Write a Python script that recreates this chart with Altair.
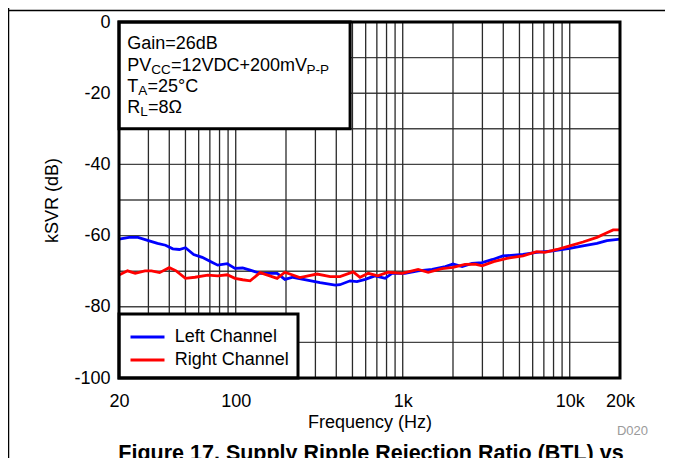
import altair as alt
import pandas as pd

FONT = "Liberation Sans"

# ---------------- data ----------------
left_freq = [20, 23, 26, 30, 34, 38, 42, 46, 50, 56, 63, 72, 78, 89, 99, 110, 122, 140, 177, 197,
             220, 268, 320, 394, 421, 484, 532, 596, 682, 784, 863, 1030, 1236, 1500, 1800, 2000,
             2270, 2600, 2990, 3460, 3980, 5250, 6340, 7940, 10000, 12000, 14560, 16700, 20000]
left_ksvr = [-61.0, -60.5, -60.5, -61.4, -62.2, -62.7, -63.7, -63.9, -63.4, -65.3, -66.1, -67.5,
             -68.3, -67.9, -69.2, -69.1, -69.7, -70.6, -70.6, -72.3, -71.7, -72.5, -73.2, -73.9,
             -73.8, -72.7, -72.9, -72.3, -71.3, -72.0, -70.6, -70.6, -69.9, -69.5, -68.7, -68.0,
             -68.7, -67.8, -67.6, -66.7, -65.7, -65.3, -64.7, -64.3, -63.6, -62.9, -62.2, -61.4, -61.0]

right_freq = [20, 22.5, 25, 28.6, 31.3, 35, 40, 44, 50, 57, 68, 78, 89, 99, 110, 122, 140, 177,
              197, 242, 307, 368, 421, 505, 555, 622, 709, 818, 992, 1236, 1420, 1720, 2000, 2360,
              2710, 2990, 3500, 4200, 5250, 6340, 7100, 8380, 10000, 12000, 14560, 16700, 18200, 20000]
right_ksvr = [-71.1, -69.9, -70.6, -69.9, -69.9, -70.4, -69.0, -69.9, -72.0, -71.7, -71.1, -71.3,
              -71.0, -72.0, -72.4, -72.7, -70.4, -72.0, -70.3, -71.8, -70.8, -71.5, -71.5, -70.2,
              -71.7, -70.6, -71.3, -70.3, -70.6, -69.5, -70.3, -69.3, -68.9, -68.1, -68.0, -68.5,
              -67.3, -66.4, -65.7, -64.5, -64.7, -63.9, -62.9, -61.8, -60.5, -59.2, -58.4, -58.4]

series_names = ["Left Channel", "Right Channel"]
series_colors = ["#0000FF", "#FF0000"]

x_tick_values = [20, 100, 1000, 10000, 20000]
x_tick_labels = ["20", "100", "1k", "10k", "20k"]
y_tick_values = [-100, -80, -60, -40, -20, 0]
y_tick_labels = ["-100", "-80", "-60", "-40", "-20", "0"]
x_minor_grid = [30, 40, 50, 60, 70, 80, 90, 100, 200, 300, 400, 500, 600, 700, 800, 900,
                1000, 2000, 3000, 4000, 5000, 6000, 7000, 8000, 9000, 10000]
y_grid = [-90, -80, -70, -60, -50, -40, -30, -20, -10]

# ---------------- tables ----------------
lines_df = pd.concat([
    pd.DataFrame({"freq": left_freq, "ksvr": left_ksvr, "channel": series_names[0]}),
    pd.DataFrame({"freq": right_freq, "ksvr": right_ksvr, "channel": series_names[1]}),
], ignore_index=True)

one = pd.DataFrame({"k": [0]})

xscale = alt.Scale(type="log", domain=[20, 20000], nice=False)
yscale = alt.Scale(domain=[-100, 0], nice=False, zero=False)


def js_map(vals, labs):
    return "{" + ",".join(f"'{v}':'{t}'" for v, t in zip(vals, labs)) + "}"


xaxis = alt.Axis(values=x_tick_values, labelExpr=f"{js_map(x_tick_values, x_tick_labels)}[datum.value]",
                 title="Frequency (Hz)", grid=False, ticks=False, tickSize=0, domain=False,
                 labelFont=FONT, labelFontSize=18, labelColor="black", labelPadding=14.5,
                 labelFlush=False, labelOverlap=False,
                 titleFont=FONT, titleFontSize=18, titleFontWeight="normal", titleColor="black",
                 titleX=250.5, titleY=49.5, titleBaseline="alphabetic", titleAlign="center")
yaxis = alt.Axis(values=y_tick_values, labelExpr=f"{js_map(y_tick_values, y_tick_labels)}[datum.value]",
                 title="kSVR (dB)", grid=False, ticks=False, tickSize=0,
                 domain=False, labelFont=FONT, labelFontSize=18, labelColor="black",
                 labelPadding=9, labelOverlap=False,
                 titleFont=FONT, titleFontSize=18, titleFontWeight="normal", titleColor="black",
                 titleAngle=270, titleX=-62, titleY=178, titleBaseline="alphabetic",
                 titleAlign="center")


def X(**kw):
    return alt.X("freq:Q", scale=xscale, axis=xaxis, **kw)


def Y(**kw):
    return alt.Y("ksvr:Q", scale=yscale, axis=yaxis, **kw)


# grid
hgrid = alt.Chart(pd.DataFrame({"ksvr": y_grid})).mark_rule(color="#444444", strokeWidth=1.4).encode(y=Y())
vgrid = alt.Chart(pd.DataFrame({"freq": x_minor_grid})).mark_rule(color="#2a2a2a", strokeWidth=1.3).encode(x=X())

# data lines
lines = alt.Chart(lines_df).mark_line(strokeWidth=2.8).encode(
    x=X(), y=Y(),
    color=alt.Color("channel:N", scale=alt.Scale(domain=series_names, range=series_colors),
                    legend=alt.Legend(orient="none", legendX=19.5, legendY=306, title=None,
                                      symbolType="M-3,0H3", symbolSize=128.4, symbolStrokeWidth=3,
                                      labelFont=FONT, labelFontSize=18, labelColor="black",
                                      labelOffset=18.3, rowPadding=5, padding=0)),
    detail="channel:N",
)


def box(f1, f2, k1, k2, **kw):
    return alt.Chart(pd.DataFrame({"freq": [f1], "freq2": [f2], "ksvr": [k1], "ksvr2": [k2]})).mark_rect(
        **kw).encode(x=X(), x2="freq2", y=Y(), y2="ksvr2")


ann_box = box(20, 484, 0, -30, fill="white", stroke="black", strokeWidth=3)
leg_box = box(20, 236, -82, -100, fill="white", stroke="black", strokeWidth=3)
border = box(20, 20000, 0, -100, filled=False, stroke="black", strokeWidth=3)


def txt(t, px, py, size=18, **kw):
    opts = dict(align="left", baseline="alphabetic", font=FONT, fontSize=size, color="black")
    opts.update(kw)
    return alt.Chart(one).mark_text(**opts).encode(
        x=alt.value(px), y=alt.value(py), text=alt.value(t))


texts = [
    txt("Gain=26dB", 8.3, 27.3),
    txt("PV", 8.3, 48.5), txt("CC", 32.3, 52, 13.5), txt("=12VDC+200mV", 52, 48.5), txt("P-P", 187.5, 51.5, 13.5),
    txt("T", 8.3, 69.5), txt("A", 19.3, 72.5, 13.5), txt("=25°C", 28.5, 69.5),
    txt("R", 8.3, 90.5), txt("L", 21.3, 93.5, 13.5), txt("=8Ω", 29, 90.5),
    txt("D020", 529, 413, 13, align="right", color="#9a9a9a"),
    txt("Figure 17. Supply Ripple Rejection Ratio (BTL) vs", 252, 438, 21.5, align="center", fontWeight="bold"),
]

top_line = alt.Chart(one).mark_rule(color="black", strokeWidth=1.3).encode(
    x=alt.value(-111), x2=alt.value(546), y=alt.value(-11.5))
left_line = alt.Chart(one).mark_rule(color="black", strokeWidth=1.3).encode(
    x=alt.value(-110.4), y=alt.value(-14), y2=alt.value(436))

chart = alt.layer(
    hgrid, vgrid, lines, ann_box, leg_box, border, top_line, left_line, *texts
).properties(
    width=501, height=356,
    padding={"left": 111, "top": 14, "right": 45, "bottom": 80},
    autosize=alt.AutoSizeParams(type="none"),
    background="white",
).configure_view(stroke=None)

chart.save("out.html", embed_options={"renderer": "svg", "actions": False})
